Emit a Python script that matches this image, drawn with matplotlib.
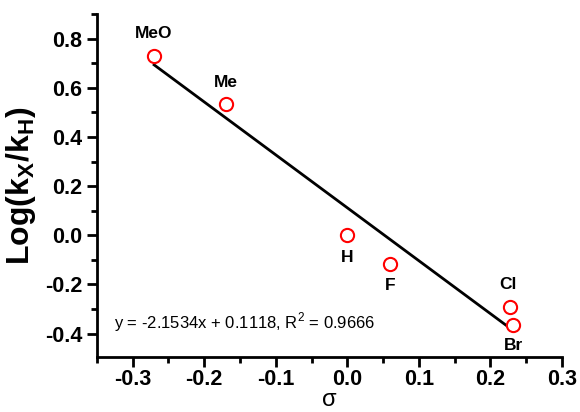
import matplotlib
matplotlib.use("Agg")
import matplotlib.pyplot as plt
import numpy as np
from matplotlib.ticker import MultipleLocator

plt.rcParams['font.family'] = ['Liberation Sans', 'DejaVu Sans']
plt.rcParams['axes.unicode_minus'] = False

# substituent data
labels = ['MeO', 'Me', 'H', 'F', 'Cl', 'Br']
sigma = [-0.27, -0.17, 0.0, 0.06, 0.227, 0.232]
logk = [0.73, 0.532, 0.0, -0.115, -0.29, -0.365]
label_dx = [0.0, 0.0, 0.0, 0.0, -0.003, 0.0]
label_dy = [0.09, 0.09, -0.09, -0.09, 0.09, -0.085]

slope = -2.1534
intercept = 0.1118
r2 = 0.9666

fig = plt.figure(figsize=(5.8, 4.12), dpi=100)
ax = fig.add_axes([0.167, 0.1335, 0.802, 0.8325])

xfit = np.array([min(sigma), max(sigma)])
ax.plot(xfit, slope * xfit + intercept, color='black', lw=2, zorder=2)
ax.plot(sigma, logk, 'o', ms=9.5, mfc='white', mec='red', mew=1.5, zorder=3)

for lab, x, y, dx, dy in zip(labels, sigma, logk, label_dx, label_dy):
    ax.text(x + dx, y + dy, lab, ha='center', va='center',
            fontsize=12.5, fontweight='bold')

ax.text(-0.326, -0.355, 'y = %.4fx + %.4f, R$^\\mathregular{2}$ = %.4f' % (slope, intercept, r2),
        fontsize=12, va='center')

ax.set_xlim(-0.35, 0.3)
ax.set_ylim(-0.495, 0.9)
ax.xaxis.set_major_locator(MultipleLocator(0.1))
ax.xaxis.set_minor_locator(MultipleLocator(0.05))
ax.yaxis.set_major_locator(MultipleLocator(0.2))
ax.yaxis.set_minor_locator(MultipleLocator(0.1))

for s in ['top', 'right']:
    ax.spines[s].set_visible(False)
for s in ['left', 'bottom']:
    ax.spines[s].set_linewidth(2)

ax.tick_params(which='major', length=7, width=2, labelsize=15.5)
ax.tick_params(which='minor', length=4, width=2)
ax.tick_params(axis='x', which='major', pad=2)
for t in ax.get_xticklabels() + ax.get_yticklabels():
    t.set_fontweight('bold')

ax.set_ylabel('Log(k$_\\mathregular{X}$/k$_\\mathregular{H}$)', fontsize=23, fontweight='bold', labelpad=5)
ax.set_xlabel('σ', fontsize=17, va='bottom')
ax.xaxis.set_label_coords(0.5, -0.158)

fig.savefig('out.png', dpi=100)
